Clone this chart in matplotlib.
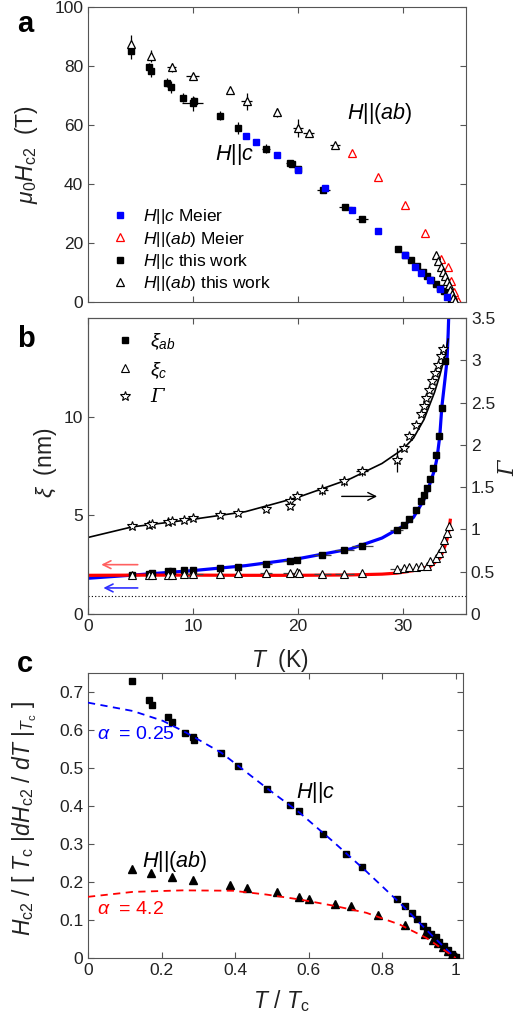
import matplotlib
matplotlib.use('Agg')
import matplotlib.pyplot as plt
from matplotlib.lines import Line2D

plt.rcParams['font.family'] = ['Liberation Sans', 'DejaVu Sans']
plt.rcParams['mathtext.fontset'] = 'custom'
plt.rcParams['mathtext.rm'] = 'Liberation Sans'
plt.rcParams['mathtext.it'] = 'Liberation Sans:italic'
plt.rcParams['mathtext.bf'] = 'Liberation Sans:bold'

# ---------------- Panel a data ----------------
# H||c this work
a_c_T = [4.13, 5.8, 6.03, 7.56, 7.9, 9.08, 9.97, 10.1, 12.6, 14.25, 16.95, 19.2, 19.4, 20.0,
         22.4, 24.5, 26.1, 29.5, 30.2, 30.8, 31.3, 31.9, 32.3, 32.7, 33.1, 33.5, 33.9, 34.3, 34.6]
a_c_H = [85.0, 79.5, 78.2, 74.4, 72.8, 69.3, 67.3, 68.0, 63.2, 59.0, 52.0, 47.1, 46.8, 45.0,
         38.1, 32.1, 28.0, 18.0, 15.8, 14.1, 12.1, 10.2, 8.9, 7.6, 6.2, 4.9, 3.6, 2.3, 0.9]
a_c_xerr = [0, 0, 0.3, 0, 0.3, 0, 1.0, 0, 0, 0, 0.4, 0.3, 0, 0,
            0.6, 0.6, 0.6, 0, 0, 0, 0, 0, 0, 0, 0, 0, 0, 0, 0]
a_c_yerr = [2.5, 1.5, 2.0, 1.5, 2.0, 1.5, 2.5, 1.5, 1.5, 2.0, 1.5, 1.0, 0, 0,
            0.8, 0, 0, 0, 0, 0, 0, 0, 0, 0, 0, 0, 0, 0, 0]
# H||(ab) this work
a_ab_T = [4.13, 5.97, 7.97, 9.97, 13.5, 15.1, 18.0, 20.0, 21.0, 23.5,
          33.1, 33.35, 33.6, 33.8, 34.0, 34.2, 34.35, 34.5, 34.65, 34.8, 34.95]
a_ab_H = [87.4, 83.5, 79.5, 76.6, 71.7, 68.0, 64.3, 59.0, 57.2, 53.2,
          16.0, 14.0, 12.0, 10.3, 8.7, 7.1, 5.6, 4.2, 2.8, 1.5, 0.3]
a_ab_xerr = [0, 0, 0.4, 0.6, 0, 0.5, 0, 0.5, 0.5, 0.5,
             0, 0, 0, 0, 0, 0, 0, 0, 0, 0, 0]
a_ab_yerr = [3.0, 2.0, 1.5, 1.0, 1.0, 3.0, 1.5, 3.0, 0, 0,
             0, 0, 0, 0, 0, 0, 0, 0, 0, 0, 0]
# Meier
m_c_T = [15.0, 16.0, 18.0, 20.0, 22.6, 25.1, 27.6, 30.2, 31.1, 31.7, 32.6, 33.5, 34.2]
m_c_H = [56.3, 54.2, 49.8, 44.7, 38.8, 31.3, 24.1, 15.9, 11.9, 9.8, 7.3, 4.4, 1.8]
m_ab_T = [25.1, 27.6, 30.2, 32.1, 33.6, 34.3, 34.6, 34.9, 35.2]
m_ab_H = [50.6, 42.4, 32.8, 23.4, 14.5, 11.9, 7.0, 3.5, 0.3]

# ---------------- Panel b data ----------------
b_T = [4.19, 5.84, 6.1, 7.62, 8.0, 9.14, 9.97, 12.6, 14.25, 16.95, 19.2, 19.9, 22.3, 24.4, 26.1,
       29.4, 30.1, 30.6, 31.2, 31.75, 32.0, 32.3, 32.6, 32.85, 33.1, 33.4, 33.7, 33.97]
xi_ab = [1.99, 2.05, 2.08, 2.16, 2.16, 2.21, 2.25, 2.33, 2.38, 2.53, 2.67, 2.75, 2.97, 3.26, 3.43,
         4.27, 4.53, 4.83, 5.25, 5.71, 6.05, 6.39, 6.84, 7.40, 8.07, 9.04, 10.44, 12.80]
xi_ab_xerr = [0, 0, 0, 0, 0, 0, 0, 0, 0, 0.6, 0.6, 0, 0.8, 0.9, 1.0,
              0.6, 0, 0, 0, 0, 0, 0, 0, 0, 0, 0, 0, 0]
c_T = [4.19, 5.84, 6.1, 7.62, 8.0, 9.14, 9.97, 12.6, 14.25, 16.95, 19.2, 19.9, 20.1, 22.3, 24.4, 26.1,
       29.4, 30.1, 30.6, 31.2, 31.75, 32.3, 32.6, 33.1, 33.4, 33.7, 33.9, 34.2, 34.4]
xi_c = [1.98, 1.99, 2.0, 2.0, 2.0, 2.01, 2.02, 2.05, 2.08, 2.06, 2.08, 2.12, 2.1, 2.05, 2.02, 2.08,
        2.28, 2.33, 2.38, 2.38, 2.42, 2.42, 2.67, 2.84, 3.09, 3.34, 3.77, 4.1, 4.44]
xi_c_xerr = [0, 0, 0, 0, 0, 0, 1.0, 0, 0, 0.6, 0.6, 0, 0, 0.8, 0.9, 0,
             0.6, 0, 0, 0, 0, 0, 0, 0, 0, 0, 0, 0, 0]
g_T = [4.19, 5.84, 6.1, 7.62, 8.0, 9.14, 9.97, 12.6, 14.25, 16.95, 19.2, 19.25, 19.9, 22.3, 24.4, 26.1,
       29.4, 30.1, 30.6, 31.2, 31.75, 32.0, 32.2, 32.5, 32.8, 33.0, 33.3, 33.6, 33.8]
gamma = [1.036, 1.056, 1.063, 1.091, 1.099, 1.115, 1.139, 1.171, 1.198, 1.242, 1.341, 1.28, 1.393,
         1.472, 1.571, 1.687, 1.817, 1.964, 2.107, 2.234, 2.365, 2.464, 2.55, 2.65, 2.75, 2.85,
         2.95, 3.05, 3.13]
gamma_yerr = [0, 0, 0, 0, 0, 0, 0, 0, 0, 0.03, 0.05, 0, 0, 0.07, 0.06, 0.05,
              0.14, 0, 0, 0, 0, 0, 0, 0, 0, 0, 0, 0, 0]
gamma_xerr = [0, 0, 0, 0, 0, 0, 0.6, 0, 0, 0, 0, 0, 0, 0.6, 0, 0.6,
              0, 0, 0, 0, 0, 0, 0, 0, 0, 0, 0, 0, 0]
# fit curves
fit_g_T = [0.0, 4.2, 10.0, 15.0, 20.0, 25.0, 28.0, 30.0, 31.0, 32.0, 33.0, 33.5, 34.0, 34.3]
fit_g = [0.905, 1.03, 1.12, 1.21, 1.38, 1.60, 1.78, 1.95, 2.08, 2.30, 2.62, 2.82, 3.05, 3.25]
fit_ab_T = [0.0, 5.0, 10.0, 15.0, 20.0, 25.0, 28.0, 30.0, 31.0, 32.0, 32.5, 33.0, 33.24, 33.5,
            33.7, 34.0, 34.19, 34.3, 34.38]
fit_ab = [1.81, 2.0, 2.2, 2.45, 2.8, 3.3, 3.85, 4.45, 4.9, 5.8, 6.5, 7.3, 7.9, 9.0,
          10.5, 11.9, 12.85, 14.2, 15.5]
fit_c_T = [0.0, 5.0, 10.0, 15.0, 20.0, 25.0, 28.0, 29.4, 31.0, 32.6, 33.55, 34.0, 34.2, 34.4, 34.5]
fit_c = [1.96, 1.97, 1.97, 1.96, 1.96, 1.98, 2.02, 2.07, 2.2, 2.41, 2.85, 3.45, 3.8, 4.3, 4.75]
dotted_level = 0.93

# ---------------- Panel c data ----------------
cc_t = [0.12, 0.166, 0.175, 0.218, 0.229, 0.264, 0.286, 0.288, 0.363, 0.409, 0.486, 0.549, 0.573,
        0.640, 0.701, 0.746, 0.841, 0.863, 0.880, 0.896, 0.911, 0.923, 0.934, 0.946, 0.956, 0.968,
        0.979, 0.990, 1.0]
cc_h = [0.729, 0.679, 0.667, 0.634, 0.621, 0.591, 0.582, 0.575, 0.539, 0.505, 0.445, 0.402, 0.386,
        0.327, 0.273, 0.239, 0.154, 0.136, 0.119, 0.103, 0.085, 0.075, 0.064, 0.054, 0.042, 0.032,
        0.022, 0.011, 0.002]
cab_t = [0.121, 0.172, 0.229, 0.286, 0.385, 0.432, 0.514, 0.574, 0.601, 0.672, 0.716, 0.789, 0.861,
         0.918, 0.938, 0.952, 0.966, 0.979, 0.991, 1.0]
cab_h = [0.235, 0.224, 0.213, 0.205, 0.192, 0.183, 0.173, 0.160, 0.154, 0.143, 0.136, 0.114, 0.088,
         0.063, 0.048, 0.040, 0.029, 0.019, 0.009, 0.002]
whh_c_t = [0.0, 0.122, 0.204, 0.267, 0.363, 0.485, 0.576, 0.666, 0.757, 0.848, 0.938, 1.0]
whh_c = [0.672, 0.650, 0.624, 0.593, 0.540, 0.448, 0.382, 0.307, 0.228, 0.145, 0.057, 0.0]
whh_ab_t = [0.0, 0.122, 0.258, 0.394, 0.485, 0.576, 0.666, 0.757, 0.848, 0.920, 1.0]
whh_ab = [0.161, 0.174, 0.178, 0.177, 0.167, 0.154, 0.138, 0.119, 0.088, 0.053, 0.0]

BLUE = '#0000ff'
RED = '#ff0000'
AX = '#555555'

W, H = 522, 1025
fig = plt.figure(figsize=(W / 100, H / 100), dpi=100)


def frac(l, t, r, b):
    return [l / W, 1 - b / H, (r - l) / W, (b - t) / H]


def style(ax, right=True):
    for s in ax.spines.values():
        s.set_color(AX)
        s.set_linewidth(0.8)
    ax.tick_params(direction='in', top=True, right=right, length=4, width=0.8,
                   color=AX, labelcolor='#222222', labelsize=12.5)


ax_a = fig.add_axes(frac(88, 7, 466, 302))
ax_b = fig.add_axes(frac(88, 318, 466, 614))
ax_c = fig.add_axes(frac(88, 673, 463, 958))

# ---------- a ----------
ax_a.errorbar(a_c_T, a_c_H, xerr=a_c_xerr, yerr=a_c_yerr, fmt='s', ms=4.6, mfc='k', mec='k',
              ecolor='k', elinewidth=0.9, capsize=0, zorder=3)
ax_a.plot(m_c_T, m_c_H, 's', ms=4.3, color=BLUE, mec=BLUE, zorder=4)
ax_a.plot(m_ab_T, m_ab_H, '^', ms=6.2, mfc='none', mec=RED, mew=0.9, zorder=2)
ax_a.errorbar(a_ab_T, a_ab_H, xerr=a_ab_xerr, yerr=a_ab_yerr, fmt='^', ms=6.2, mfc='white', mec='k',
              mew=0.9, ecolor='k', elinewidth=0.9, capsize=0, zorder=3)
ax_a.set_xlim(0, 36)
ax_a.set_ylim(0, 100)
ax_a.set_xticks([0, 10, 20, 30])
ax_a.set_yticks([0, 20, 40, 60, 80, 100])
style(ax_a)
ax_a.tick_params(labelbottom=False)
ax_a.set_ylabel(r'$\mu_0H_{\rm c2}$  (T)', fontsize=16.5, color='#222222')
ax_a.yaxis.label.set_va('baseline')
ax_a.yaxis.set_label_coords(-0.145, 0.5)
ax_a.text(24.7, 64, r'$H$||($ab$)', fontsize=15.5, ha='left', va='center')
ax_a.text(14.0, 50, r'$H$||$c$', fontsize=15.5, ha='center', va='center')
leg_a = [Line2D([], [], ls='none', marker='s', ms=4.3, color=BLUE),
         Line2D([], [], ls='none', marker='^', ms=6.2, mfc='none', mec=RED, mew=0.9),
         Line2D([], [], ls='none', marker='s', ms=4.6, color='k'),
         Line2D([], [], ls='none', marker='^', ms=6.2, mfc='none', mec='k', mew=0.9)]
ax_a.legend(leg_a, [r'$H$||$c$ Meier', r'$H$||($ab$) Meier', r'$H$||$c$ this work',
                    r'$H$||($ab$) this work'],
            loc='lower left', bbox_to_anchor=(0.025, -0.01), frameon=False, fontsize=12.5,
            handletextpad=0.7, labelspacing=0.18, handlelength=1.2, borderaxespad=0.3)
fig.text(17 / W, 1 - 32 / H, 'a', fontsize=21, fontweight='bold', ha='left', va='baseline')

# ---------- b ----------
ax_b2 = ax_b.twinx()
ax_b.plot(fit_ab_T, fit_ab, '-', color=BLUE, lw=2.3, zorder=2)
ax_b.plot(fit_c_T, fit_c, '-', color=RED, lw=2.3, zorder=2)
ax_b.axhline(dotted_level, ls=(0, (1, 2)), color='k', lw=0.8)
ax_b.errorbar(b_T, xi_ab, xerr=xi_ab_xerr, fmt='s', ms=4.2, mfc='k', mec='k', ecolor='#444444',
              elinewidth=0.9, capsize=0, zorder=3)
ax_b.errorbar(c_T, xi_c, xerr=xi_c_xerr, fmt='^', ms=5.6, mfc='white', mec='k', mew=0.8,
              ecolor='#444444', elinewidth=0.9, capsize=0, zorder=3)
ax_b2.plot(fit_g_T, fit_g, '-', color='k', lw=1.2, zorder=2)
ax_b2.errorbar(g_T, gamma, xerr=gamma_xerr, yerr=gamma_yerr, fmt='*', ms=7.2, mfc='white', mec='k',
               mew=0.8, ecolor='k', elinewidth=0.9, capsize=0, zorder=3)
ax_b.set_xlim(0, 36)
ax_b.set_ylim(0, 15)
ax_b2.set_ylim(0, 3.5)
ax_b.set_xticks([0, 10, 20, 30])
ax_b.set_yticks([0, 5, 10])
ax_b2.set_yticks([0, 0.5, 1, 1.5, 2, 2.5, 3, 3.5])
ax_b2.set_yticklabels(['0', '0.5', '1', '1.5', '2', '2.5', '3', '3.5'])
style(ax_b, right=False)
style(ax_b2)
ax_b2.tick_params(top=False, left=False)
ax_b.set_ylabel(r'$\xi$  (nm)', fontsize=16.5, color='#222222')
ax_b.yaxis.label.set_va('baseline')
ax_b.yaxis.set_label_coords(-0.095, 0.51)
ax_b.set_xlabel(r'$T$  (K)', fontsize=16.5, color='#222222')
ax_b.xaxis.label.set_va('baseline')
ax_b.xaxis.set_label_coords(0.508, -0.178)
ax_b2.set_ylabel('Γ', fontsize=16, family='DejaVu Serif', style='italic', rotation=90,
                 color='#222222')
ax_b2.yaxis.label.set_va('center')
ax_b2.yaxis.set_label_coords(1.111, 0.493)
ax_b.annotate('', xy=(27.8, 5.96), xytext=(23.9, 5.96),
              arrowprops=dict(arrowstyle='->', color='k', lw=1.0, mutation_scale=14))
ax_b.annotate('', xy=(1.0, 2.5), xytext=(5.0, 2.5),
              arrowprops=dict(arrowstyle='->', color='#ff6060', lw=1.2, mutation_scale=14))
ax_b.annotate('', xy=(1.2, 1.32), xytext=(5.0, 1.32),
              arrowprops=dict(arrowstyle='->', color='#3030ff', lw=1.2, mutation_scale=14))
leg_b = [Line2D([], [], ls='none', marker='s', ms=4.2, color='k'),
         Line2D([], [], ls='none', marker='^', ms=5.6, mfc='none', mec='k', mew=0.8),
         Line2D([], [], ls='none', marker='*', ms=7.2, mfc='none', mec='k', mew=0.8)]
lb = ax_b.legend(leg_b, [r'$\xi_{ab}$', r'$\xi_{c}$', 'Γ'], loc='upper left',
                 bbox_to_anchor=(0.03, 1.0), frameon=False, fontsize=14, handletextpad=0.7,
                 labelspacing=0.4, handlelength=1.2, borderaxespad=0.3)
lb.get_texts()[2].set_fontfamily('DejaVu Serif')
lb.get_texts()[2].set_fontstyle('italic')
fig.text(17 / W, 1 - 347 / H, 'b', fontsize=21, fontweight='bold', ha='left', va='baseline')

# ---------- c ----------
ax_c.plot(whh_c_t, whh_c, '--', color=BLUE, lw=1.3, dashes=(4, 3), zorder=4)
ax_c.plot(whh_ab_t, whh_ab, '--', color=RED, lw=1.3, dashes=(4, 3), zorder=4)
ax_c.plot(cc_t, cc_h, 's', ms=5, color='k', zorder=3)
ax_c.plot(cab_t, cab_h, '^', ms=6.2, color='k', zorder=3)
ax_c.set_xlim(0, 1.02)
ax_c.set_ylim(0, 0.75)
ax_c.set_xticks([0, 0.2, 0.4, 0.6, 0.8, 1])
ax_c.set_xticklabels(['0', '0.2', '0.4', '0.6', '0.8', '1'])
ax_c.set_yticks([0, 0.1, 0.2, 0.3, 0.4, 0.5, 0.6, 0.7])
ax_c.set_yticklabels(['0', '0.1', '0.2', '0.3', '0.4', '0.5', '0.6', '0.7'])
style(ax_c)
ax_c.set_xlabel(r'$T$ / $T_{\rm c}$', fontsize=16.5, color='#222222')
ax_c.xaxis.label.set_va('baseline')
ax_c.xaxis.set_label_coords(0.515, -0.175)
ax_c.set_ylabel(r'$H_{\rm c2}$ / [ $T_{\rm c}$ |$dH_{\rm c2}$ / $dT$ |$_{T_{\rm c}}$ ]',
                fontsize=16.5, color='#222222')
ax_c.yaxis.label.set_va('baseline')
ax_c.yaxis.set_label_coords(-0.155, 0.49)
ax_c.text(0.025, 0.588, r'$\alpha$  = 0.25', fontsize=14, color=BLUE, ha='left', va='center')
ax_c.text(0.025, 0.128, r'$\alpha$  = 4.2', fontsize=14, color=RED, ha='left', va='center')
ax_c.text(0.565, 0.435, r'$H$||$c$', fontsize=15.5, ha='left', va='center')
ax_c.text(0.148, 0.255, r'$H$||($ab$)', fontsize=15.5, ha='left', va='center')
fig.text(17 / W, 1 - 672 / H, 'c', fontsize=21, fontweight='bold', ha='left', va='baseline')

fig.savefig('out.png', dpi=100)
